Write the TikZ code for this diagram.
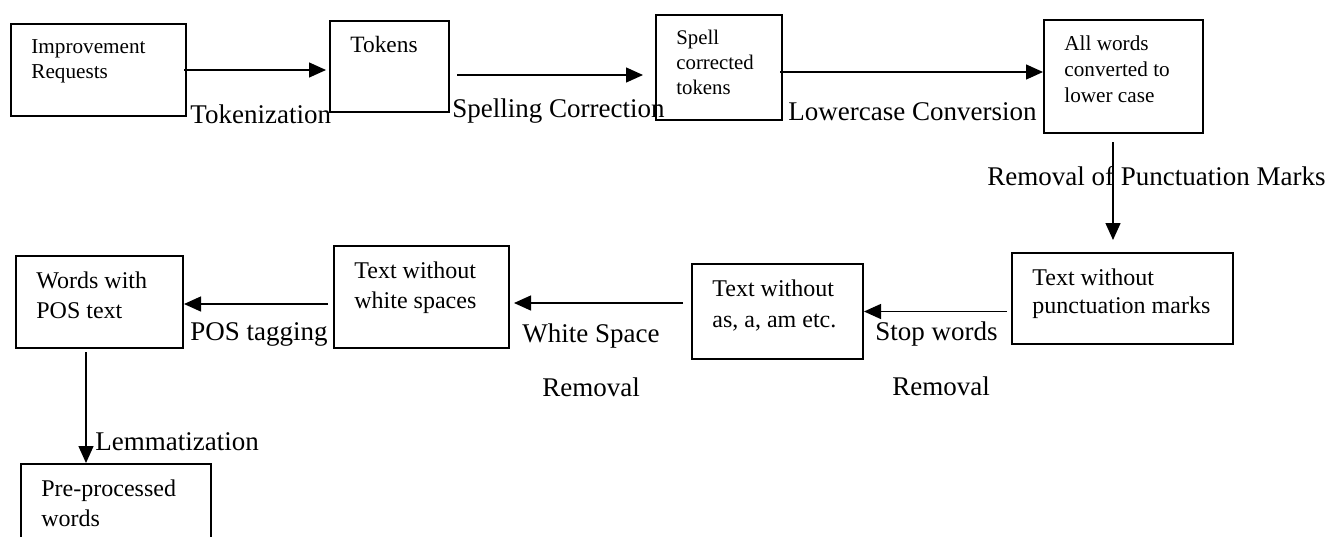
\documentclass[tikz,border=0pt]{standalone}
\usepackage{fontspec}
\setmainfont{Liberation Serif}
\usetikzlibrary{positioning,calc,arrows.meta}

\begin{document}
\begin{tikzpicture}[x=0.5pt, y=-0.5pt,
  pbox/.style={draw=black, line width=1pt, anchor=north west, inner sep=0pt},
  ptext/.style={align=left, inner sep=0pt, below right=8pt and 10.5pt of #1.north west},
  plabel/.style={font=\fontsize{13.5}{16}\selectfont, anchor=base west, inner sep=0pt},
  parrow/.style={-{Triangle[length=8.5pt,width=7.5pt]}, line width=0.7pt},
]
\useasboundingbox (0,0) rectangle (1332,536);
\clip (0,0) rectangle (1332,536);
\node[pbox, minimum width=87.5pt,  minimum height=46pt]   (req)   at (10,23)   {};
\node[pbox, minimum width=59.5pt,  minimum height=45.5pt] (tok)   at (329,20)  {};
\node[pbox, minimum width=63pt,    minimum height=52.5pt] (spell) at (655,14)  {};
\node[pbox, minimum width=79.5pt,  minimum height=56.5pt] (low)   at (1043,19) {};
\node[pbox, minimum width=110.5pt, minimum height=45.5pt] (punct) at (1011,252) {};
\node[pbox, minimum width=85.5pt,  minimum height=47.5pt] (stop)  at (691,263) {};
\node[pbox, minimum width=87.5pt,  minimum height=51pt]   (white) at (333,245) {};
\node[pbox, minimum width=83.5pt,  minimum height=46pt]   (pos)   at (15,255)  {};
\node[pbox, minimum width=95pt,    minimum height=55pt]   (pre)   at (20,463)  {};
\node[ptext=req,   font=\fontsize{10.6}{12.5}\selectfont] (treq)   {Improvement\\Requests};
\node[ptext=tok,   font=\fontsize{11.7}{13}\selectfont]   (ttok)   {Tokens};
\node[ptext=spell, font=\fontsize{10.4}{12.5}\selectfont] (tspell) {Spell\\corrected\\tokens};
\node[ptext=low,   font=\fontsize{10.6}{13}\selectfont]   (tlow)   {All words\\converted to\\lower case};
\node[ptext=punct, font=\fontsize{12}{14}\selectfont]     (tpunct) {Text without\\punctuation marks};
\node[ptext=stop,  font=\fontsize{12}{15.5}\selectfont]   (tstop)  {Text without\\as, a, am etc.};
\node[ptext=white, font=\fontsize{12}{15}\selectfont]     (twhite) {Text without\\white spaces};
\node[ptext=pos,   font=\fontsize{12}{15}\selectfont]     (tpos)   {Words with\\POS text};
\node[ptext=pre,   font=\fontsize{12}{15}\selectfont]     (tpre)   {Pre-processed\\words};
\coordinate (a2) at ($(tok.east)+(7,8.5)$);
\coordinate (a3) at ($(spell.east)+(-3,4.5)$);
\coordinate (a4) at ($(low.south)+(-10.5,8)$);
\coordinate (a6) at ($(stop.west)+(-8,-8.5)$);
\coordinate (a7) at ($(white.west)+(-5,7)$);
\coordinate (a8) at ($(pos.south)+(-13.5,3)$);
\draw[parrow] ([xshift=-1.5pt]req.east) -- ([xshift=-1.5pt]req.east -| tok.west);
\draw[parrow] (a2) -- ([xshift=-6pt]a2 -| spell.west);
\draw[parrow] (a3) -- (a3 -| low.west);
\draw[parrow] (a4) -- ([yshift=6pt]a4 |- punct.north);
\draw[parrow] ([xshift=-2pt]stop.east -| punct.west) -- (stop.east);
\draw[parrow] (a6) -- ([xshift=2pt]a6 -| white.east);
\draw[parrow] (a7) -- (a7 -| pos.east);
\draw[parrow] (a8) -- (a8 |- pre.north);
\node[plabel] (ltok)   at (190,123) {Tokenization};
\node[plabel] (lspell) at (452,117) {Spelling Correction};
\node[plabel] (llow)   at (788,120) {Lowercase Conversion};
\node[plabel] (lpunct) at (987,185) {Removal of Punctuation Marks};
\node[plabel] (lstop)  at (875,340) {Stop words};
\node[plabel] (lstop2) at (892,395) {Removal};
\node[plabel] (lwhite) at (522,342) {White Space};
\node[plabel] (lwhite2) at (542,396) {Removal};
\node[plabel] (lpos)   at (190,340) {POS tagging};
\node[plabel] (llem)   at (95,450)  {Lemmatization};
\end{tikzpicture}
\end{document}
